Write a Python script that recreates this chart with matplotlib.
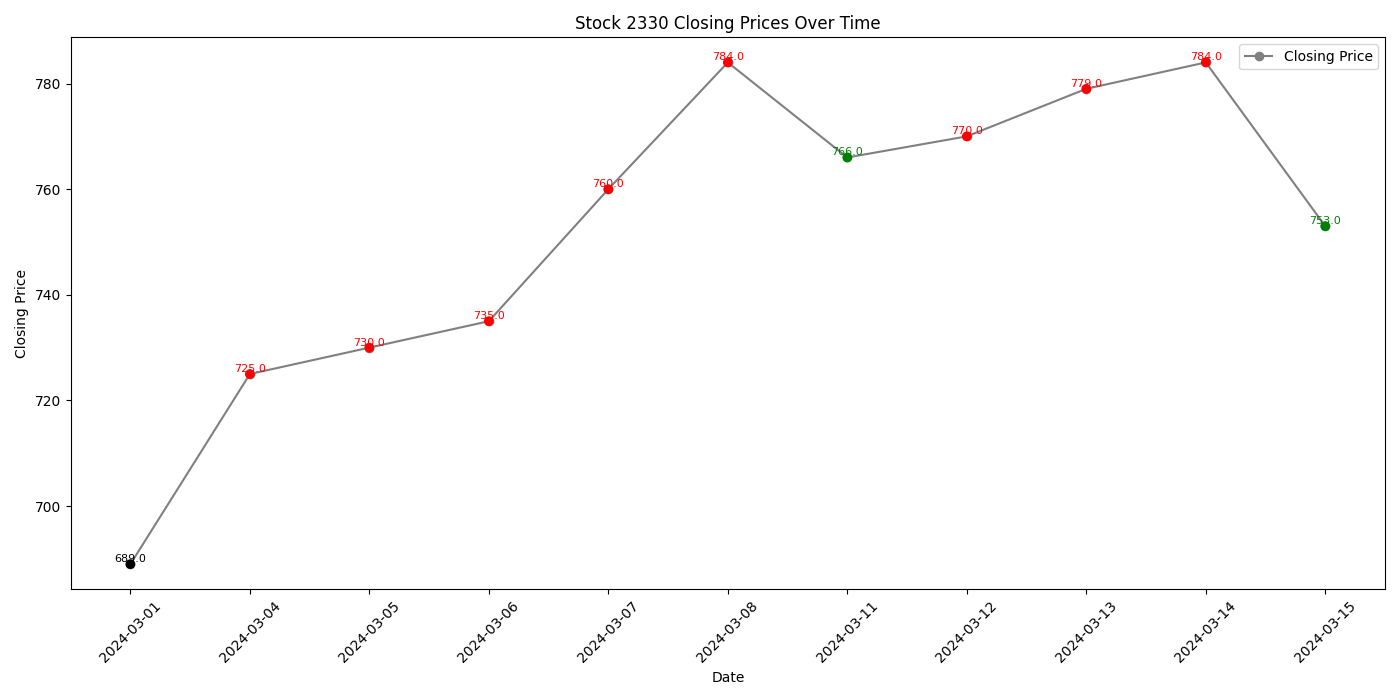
import matplotlib
matplotlib.use("Agg")
import matplotlib.pyplot as plt

# --- Data ---
dates = ["2024-03-01", "2024-03-04", "2024-03-05", "2024-03-06", "2024-03-07",
         "2024-03-08", "2024-03-11", "2024-03-12", "2024-03-13", "2024-03-14",
         "2024-03-15"]
closing = [689.0, 725.0, 730.0, 735.0, 760.0, 784.0, 766.0, 770.0, 779.0, 784.0, 753.0]

# colour by change vs previous day
colors = ["black"]
for prev, cur in zip(closing[:-1], closing[1:]):
    colors.append("red" if cur > prev else ("green" if cur < prev else "black"))

fig, ax = plt.subplots(figsize=(14, 7), dpi=100)
ax.plot(dates, closing, marker="o", color="gray", label="Closing Price")
ax.scatter(dates, closing, color=colors, zorder=3)

for d, v, c in zip(dates, closing, colors):
    ax.text(d, v, f"{v}", color=c, fontsize=8, ha="center", va="bottom")

ax.set_title("Stock 2330 Closing Prices Over Time")
ax.set_xlabel("Date")
ax.set_ylabel("Closing Price")
ax.legend(loc="upper right")
plt.xticks(rotation=45)
plt.tight_layout()
plt.savefig("out.png")
